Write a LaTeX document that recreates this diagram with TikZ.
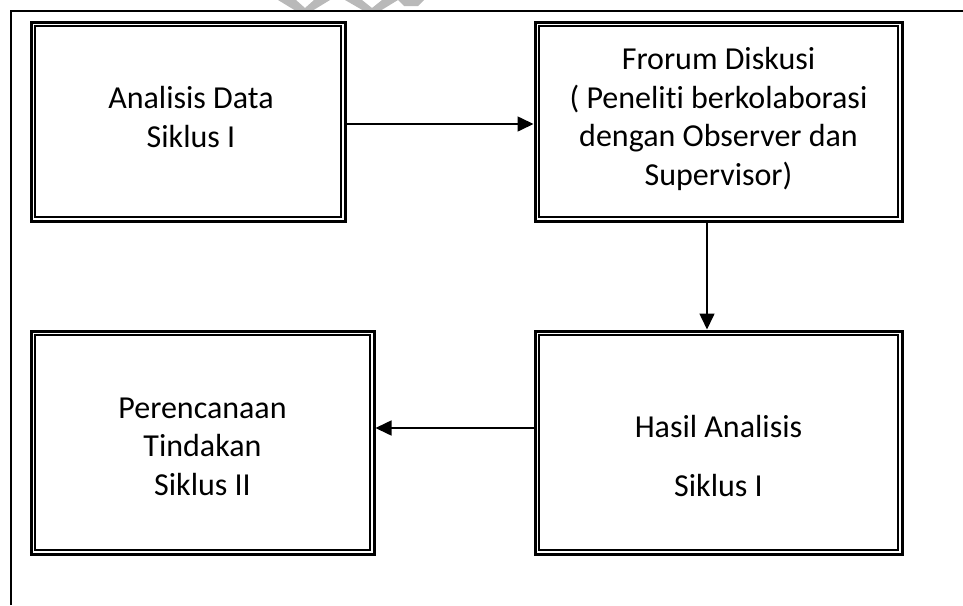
\documentclass[tikz,border=0pt]{standalone}
\usepackage{fontspec}
\setmainfont[Ligatures={NoCommon}]{Carlito}
\usetikzlibrary{arrows.meta}
\tikzset{
  box/.style={draw, line width=3pt, minimum width=#1, inner sep=0pt},
  frame/.style={line width=1.5pt},
  txt/.style={align=center, font=\fontsize{32}{38.5}\selectfont, anchor=base, inner sep=0pt},
  arr/.style={line width=1.6pt, -{Triangle[length=16pt,width=15pt]}},
  inner/.style={line width=2pt},
}
\begin{document}
\begin{tikzpicture}[x=1pt,y=-1pt]
\useasboundingbox (0,0) rectangle (963,605);
% faint watermark fragment
\fill[gray!55] (278,0) -- (296,0) -- (305,8) -- (314,0) -- (330,0) -- (312,11) -- (296,11) -- cycle;
\fill[gray!55] (345,0) -- (362,0) -- (372,8) -- (382,0) -- (398,0) -- (380,11) -- (364,11) -- cycle;
\fill[gray!55] (398,0) -- (424,0) -- (418,6) -- (404,6) -- cycle;
% outer frame
\draw[frame] (11,605) -- (11,11) -- (963,11);
% boxes
\node[box=314pt, minimum height=199pt] (b1) at (188,121.5) {};
\node[box=367pt, minimum height=199pt] (b2) at (718.5,121.5) {};
\node[box=343pt, minimum height=223pt] (b3) at (202.5,442.5) {};
\node[box=367pt, minimum height=223pt] (b4) at (718.5,442.5) {};
\foreach \b in {b1,b2,b3,b4}
  \draw[inner] ([shift={(5.5pt,5.5pt)}]\b.south west) rectangle ([shift={(-5.5pt,-5.5pt)}]\b.north east);
% texts (anchor base = baseline of last line)
\node[txt] (t1) at (191,147) {Analisis Data\\Siklus I};
\node[txt] (t2) at (718.5,185) {Frorum Diskusi\\( Peneliti berkolaborasi\\dengan Observer dan\\Supervisor)};
\node[txt] (t3) at (202.5,495) {Perencanaan\\Tindakan\\Siklus II};
\node[txt] (t4) at (718.5,496) {Hasil Analisis\\[20pt]Siklus I};
% connectors
\draw[arr] ([yshift=-2.5pt]b1.east) -- ([yshift=-2.5pt]b2.west);
\draw[arr] ([xshift=-11.5pt]b2.south) -- ([xshift=-11.5pt]b4.north);
\draw[arr] ([yshift=14.5pt]b4.west) -- ([yshift=14.5pt]b3.east);
\end{tikzpicture}
\end{document}
